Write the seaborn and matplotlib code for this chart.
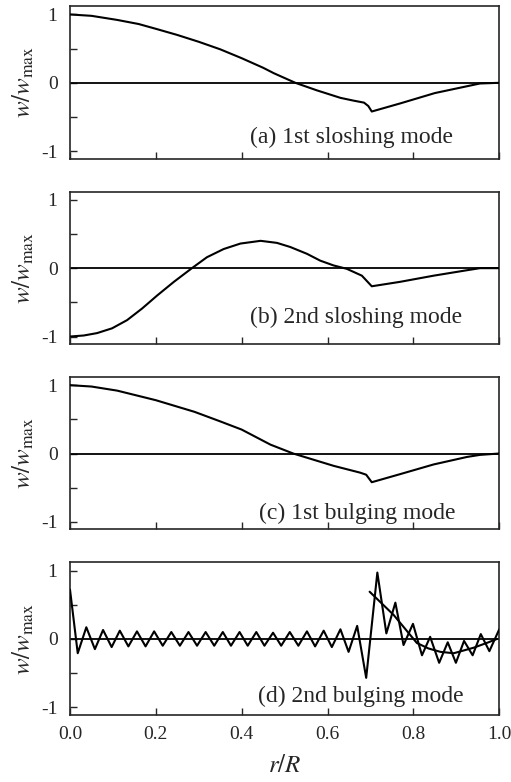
import matplotlib
matplotlib.use("Agg")
import matplotlib.pyplot as plt
import seaborn as sns
import pandas as pd

# ---------------- data ----------------
r_a = [0.0, 0.05, 0.11, 0.16, 0.20, 0.25, 0.30, 0.35, 0.40, 0.45, 0.475, 0.525,
       0.575, 0.63, 0.66, 0.685, 0.695, 0.703, 0.77, 0.85, 0.925, 0.955, 1.0]
w_a = [1.0, 0.98, 0.92, 0.86, 0.79, 0.70, 0.60, 0.49, 0.36, 0.22, 0.14, 0.0,
       -0.11, -0.22, -0.26, -0.29, -0.34, -0.42, -0.30, -0.15, -0.05, -0.01, 0.0]

r_b = [0.0, 0.032, 0.063, 0.098, 0.133, 0.168, 0.203, 0.242, 0.284, 0.319, 0.358,
       0.397, 0.444, 0.482, 0.513, 0.552, 0.583, 0.614, 0.645,
       0.68, 0.703, 0.769, 0.847, 0.925, 0.955, 1.0]
w_b = [-1.0, -0.985, -0.95, -0.88, -0.76, -0.59, -0.40, -0.20, 0.0, 0.16, 0.28,
       0.36, 0.40, 0.37, 0.31, 0.21, 0.11, 0.04, -0.01,
       -0.11, -0.265, -0.20, -0.11, -0.03, 0.0, 0.0]

r_c = [0.0, 0.05, 0.11, 0.20, 0.29, 0.35, 0.40, 0.467, 0.52, 0.614, 0.676, 0.69,
       0.703, 0.77, 0.847, 0.925, 0.955, 1.0]
w_c = [1.0, 0.98, 0.92, 0.78, 0.61, 0.47, 0.35, 0.13, 0.0, -0.18, -0.28, -0.31,
       -0.42, -0.30, -0.16, -0.05, -0.02, 0.0]

r_d = [0.000, 0.018, 0.038, 0.058, 0.077, 0.097, 0.116, 0.136, 0.156, 0.176,
       0.196, 0.216, 0.236, 0.256, 0.276, 0.296, 0.316, 0.336, 0.356, 0.375,
       0.395, 0.414, 0.434, 0.453, 0.473, 0.492, 0.512, 0.532, 0.552, 0.571,
       0.591, 0.610, 0.630, 0.649, 0.669, 0.690, 0.716, 0.737, 0.758, 0.777,
       0.799, 0.820, 0.839, 0.860, 0.880, 0.899, 0.918, 0.938, 0.957, 0.977,
       1.000]
w_d = [0.72, -0.21, 0.17, -0.15, 0.13, -0.12, 0.12, -0.11, 0.11, -0.11,
       0.11, -0.10, 0.10, -0.10, 0.10, -0.10, 0.10, -0.10, 0.10, -0.10,
       0.10, -0.10, 0.10, -0.10, 0.09, -0.10, 0.10, -0.10, 0.11, -0.11,
       0.12, -0.12, 0.14, -0.19, 0.19, -0.57, 0.97, 0.08, 0.53, -0.09,
       0.22, -0.24, 0.03, -0.35, -0.05, -0.35, -0.03, -0.24, 0.07, -0.18,
       0.14]

r_d_fit = [0.698, 0.754, 0.808, 0.835, 0.863, 0.894, 0.94, 0.975, 0.995]
w_d_fit = [0.69, 0.35, -0.06, -0.14, -0.19, -0.21, -0.13, -0.05, 0.0]

labels = ["(a) 1st sloshing mode", "(b) 2nd sloshing mode",
          "(c) 1st bulging mode", "(d) 2nd bulging mode"]
x_ticks = [0.0, 0.2, 0.4, 0.6, 0.8, 1.0]
x_ticklabels = ["0.0", "0.2", "0.4", "0.6", "0.8", "1.0"]
y_ticks = [-1, -0.5, 0, 0.5, 1]
y_ticklabels = ["-1", "", "0", "", "1"]

# label placement (layout, not data)
label_pos = [(0.42, -0.80), (0.42, -0.72), (0.44, -0.87), (0.438, -0.84)]

# ---------------- style ----------------
sns.set_style("ticks")
plt.rcParams["font.family"] = ["Liberation Serif", "DejaVu Serif"]
plt.rcParams["mathtext.fontset"] = "stix"
plt.rcParams["axes.unicode_minus"] = False
plt.rcParams["axes.linewidth"] = 1.2

fig, axes = plt.subplots(4, 1, figsize=(5.11, 7.82), dpi=100, sharex=True)
fig.subplots_adjust(left=0.137, right=0.977, top=0.992, bottom=0.086, hspace=0.216)

series = [(r_a, w_a), (r_b, w_b), (r_c, w_c), (r_d, w_d)]
for i, ax in enumerate(axes):
    r, w = series[i]
    df = pd.DataFrame({"r": r, "w": w})
    ax.axhline(0, color="black", lw=1.3, zorder=1)
    sns.lineplot(data=df, x="r", y="w", ax=ax, color="black", lw=1.5,
                 estimator=None, sort=False, zorder=3)
    if i == 3:
        dff = pd.DataFrame({"r": r_d_fit, "w": w_d_fit})
        sns.lineplot(data=dff, x="r", y="w", ax=ax, color="black", lw=1.5,
                     estimator=None, sort=False, zorder=3)
    ax.set_xlim(0, 1)
    ax.set_ylim(-1.11, 1.12)
    ax.set_yticks(y_ticks)
    ax.set_yticklabels(y_ticklabels)
    ax.set_xticks(x_ticks)
    ax.tick_params(direction="in", length=5, width=1.0, labelsize=14,
                   top=False, right=False)
    ax.tick_params(axis="y", pad=9)
    for s in ax.spines.values():
        s.set_visible(True)
        s.set_linewidth(1.2)
    ax.set_ylabel(r"$w/w_{\mathrm{max}}$", fontsize=18, labelpad=3.5)
    ax.set_xlabel("")
    lx, ly = label_pos[i]
    ax.text(lx, ly, labels[i], fontsize=17, ha="left", va="center",
            transform=ax.transData)

axes[-1].set_xticklabels(x_ticklabels)
axes[-1].tick_params(axis="x", pad=8)
axes[-1].set_xlabel(r"$r/R$", fontsize=18, labelpad=9)

fig.savefig("out.png", dpi=100)
